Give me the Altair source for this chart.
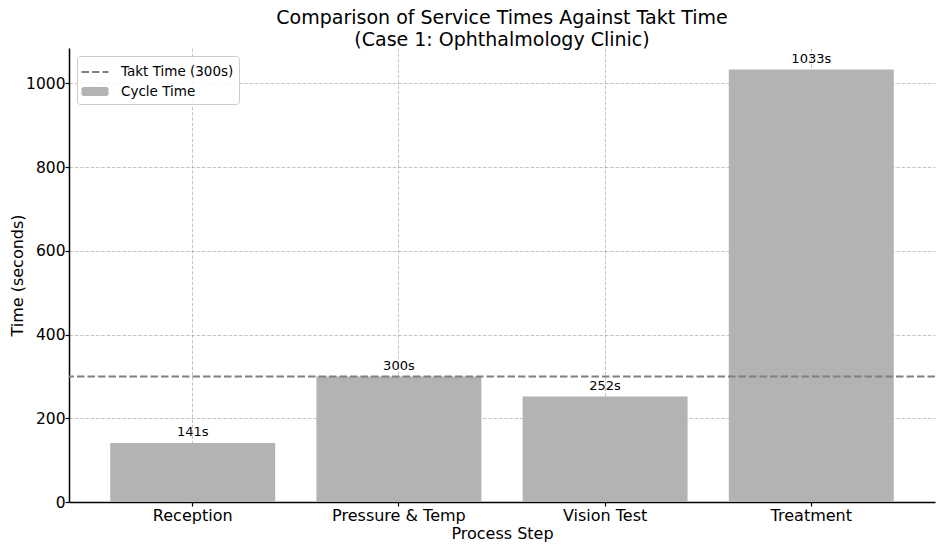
import altair as alt
import pandas as pd

steps = ["Reception", "Pressure & Temp", "Vision Test", "Treatment"]
cycle_times = [141, 300, 252, 1033]
takt_time = [300]
series_names = ["Takt Time (300s)", "Cycle Time"]
series_colors = ["#808080", "#b3b3b3"]
y_ticks = [0, 200, 400, 600, 800, 1000]

bars_df = pd.DataFrame({
    "step": steps,
    "time": cycle_times,
    "label": [f"{v}s" for v in cycle_times],
    "series": ["Cycle Time"] * len(steps),
})
takt_df = pd.DataFrame({"time": takt_time, "series": ["Takt Time (300s)"]})

FONT = "DejaVu Sans"

legend = alt.Legend(
    title=None,
    orient="top-left",
    offset=8,
    fillColor="rgba(255,255,255,0.85)",
    strokeColor="#cccccc",
    cornerRadius=3,
    padding=5,
    rowPadding=1.5,
    symbolOffset=2,
    symbolSize=400,
    symbolStrokeWidth=2,
    symbolOpacity=1,
    labelFont=FONT,
    labelFontSize=13.5,
    labelColor="#000000",
    labelOffset=15,
)

shape_paths = ["M-1.35,0H1.35", "M-1.25,-0.35H1.25V0.35H-1.25Z"]
dash_patterns = [[7.5, 3], [1, 0]]

def sc(rng):
    return alt.Scale(domain=series_names, range=rng)

fill_enc = alt.Fill("series:N", scale=sc(series_colors), legend=legend)
stroke_enc = alt.Stroke("series:N", scale=sc(series_colors), legend=legend)
shape_enc = alt.Shape("series:N", scale=sc(shape_paths), legend=legend)
dash_enc = alt.StrokeDash("series:N", scale=sc(dash_patterns), legend=legend)

x_enc = alt.X(
    "step:N",
    sort=steps,
    scale=alt.Scale(paddingInner=0.2, paddingOuter=0.2),
    axis=alt.Axis(
        title="Process Step",
        labelAngle=0,
        bandPosition=0.5,
        grid=True,
        labelPadding=1,
        titlePadding=2,
    ),
)
y_scale = alt.Scale(domain=[0, 1084.65], nice=False, zero=True)
y_enc = alt.Y(
    "time:Q",
    scale=y_scale,
    axis=alt.Axis(
        title="Time (seconds)",
        values=y_ticks,
        format="d",
        grid=True,
        labelFontSize=15.5,
        labelPadding=0,
        titlePadding=0.5,
    ),
)

bars = alt.Chart(bars_df).mark_bar().encode(x=x_enc, y=y_enc, fill=fill_enc)
texts = alt.Chart(bars_df).mark_text(
    baseline="alphabetic", dy=-6.5, fontSize=13, font=FONT, color="#000000"
).encode(x=alt.X("step:N", sort=steps), y=alt.Y("time:Q"), text="label:N")
rule = alt.Chart(takt_df).mark_rule(strokeWidth=2).encode(
    y=alt.Y("time:Q"), stroke=stroke_enc, strokeDash=dash_enc
)
legend_layer = (
    alt.Chart(takt_df)
    .mark_point(filled=True, opacity=1)
    .encode(fill=fill_enc, stroke=stroke_enc, shape=shape_enc, strokeDash=dash_enc)
    .transform_filter("false")
)

chart = (
    alt.layer(bars, rule, texts, legend_layer)
    .properties(
        width=866,
        height=454,
        padding={"left": 61, "top": 40, "right": 1, "bottom": 41},
        autosize=alt.AutoSizeParams(type="none"),
        title=alt.TitleParams(
            text=["Comparison of Service Times Against Takt Time", "(Case 1: Ophthalmology Clinic)"],
            font=FONT,
            fontSize=19,
            fontWeight="normal",
            color="#000000",
            anchor="middle",
            lineHeight=22,
            offset=-2,
        ),
    )
    .configure_view(stroke=None)
    .configure_axis(
        labelFont=FONT,
        titleFont=FONT,
        labelFontSize=16,
        titleFontSize=16,
        titleFontWeight="normal",
        labelColor="#000000",
        titleColor="#000000",
        domainColor="#000000",
        domainWidth=1.5,
        tickColor="#000000",
        tickSize=4,
        tickWidth=1.2,
        gridColor="#7d7d7d",
        gridOpacity=0.45,
        gridDash=[3.5, 1.8],
        gridWidth=1,
        zindex=1,
    )
)

chart.save("out.html", embed_options={"renderer": "svg", "actions": False})
